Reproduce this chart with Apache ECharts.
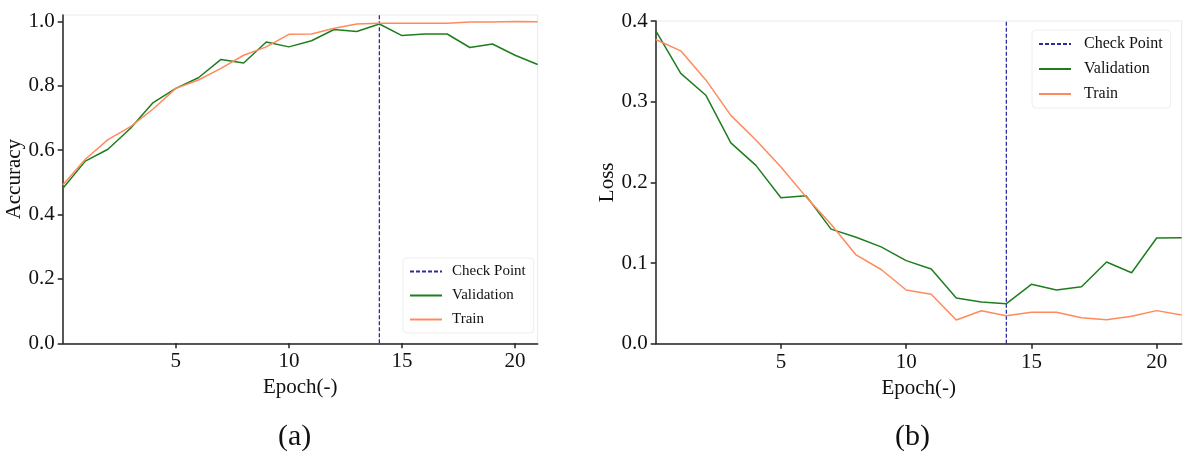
<!DOCTYPE html>
<html>
<head>
<meta charset="utf-8">
<script src="https://cdn.jsdelivr.net/npm/echarts@6/dist/echarts.min.js"></script>
<style>
	html, body { margin: 0; padding: 0; background: #fff; }
	#chart { width: 1192px; height: 452px; }
</style>
</head>
<body>
<div id="chart"></div>
<script>
// 数据
let epochs = [0, 1, 2, 3, 4, 5, 6, 7, 8, 9, 10, 11, 12, 13, 14, 15, 16, 17, 18, 19, 20, 21]
let accValidation = [0.481, 0.566, 0.603, 0.668, 0.748, 0.792, 0.825, 0.882, 0.871, 0.936, 0.921, 0.940, 0.975, 0.969, 0.992, 0.956, 0.961, 0.961, 0.919, 0.930, 0.895, 0.866]
let accTrain = [0.492, 0.572, 0.633, 0.673, 0.728, 0.792, 0.818, 0.854, 0.895, 0.921, 0.960, 0.961, 0.979, 0.992, 0.994, 0.994, 0.994, 0.994, 0.998, 0.998, 1.000, 0.999]
let lossValidation = [0.388, 0.335, 0.308, 0.249, 0.221, 0.181, 0.1835, 0.142, 0.132, 0.120, 0.103, 0.0926, 0.0567, 0.0517, 0.0496, 0.0736, 0.0666, 0.0707, 0.1013, 0.088, 0.131, 0.1314]
let lossTrain = [0.377, 0.363, 0.327, 0.283, 0.2525, 0.219, 0.182, 0.148, 0.110, 0.092, 0.0666, 0.0612, 0.0294, 0.0409, 0.0347, 0.0389, 0.0389, 0.0322, 0.0298, 0.034, 0.041, 0.0356]
let checkPointEpoch = 14
let xTicks = [5, 10, 15, 20]
let accTicks = [0, 0.2, 0.4, 0.6, 0.8, 1.0]
let lossTicks = [0, 0.1, 0.2, 0.3, 0.4]

let font = 'Liberation Serif, Times New Roman, serif'
let green = '#1f7d1f'
let orange = '#ff8a5c'
let navy = '#2b2b9e'

function pairs(ys) {
	let arr = []
	for (let i = 0, l = epochs.length; i < l; i++) {
		arr.push([epochs[i], ys[i]])
	}
	return arr
}

function xAxis(idx, name) {
	return {
		type: 'value',
		gridIndex: idx,
		min: 0,
		max: 21,
		name: name,
		nameLocation: 'middle',
		nameGap: 27,
		nameTextStyle: { fontFamily: font, fontSize: 21, color: '#111' },
		axisLine: { lineStyle: { color: '#222', width: 1.5 } },
		axisTick: { customValues: xTicks, length: 5, lineStyle: { color: '#222', width: 1.5 } },
		axisLabel: { customValues: xTicks, fontFamily: font, fontSize: 21, color: '#111', margin: 8 },
		splitLine: { show: false }
	}
}

function yAxis(idx, name, max, ticks, gap) {
	return {
		type: 'value',
		gridIndex: idx,
		min: 0,
		max: max,
		name: name,
		nameLocation: 'middle',
		nameGap: gap,
		nameTextStyle: { fontFamily: font, fontSize: 21, color: '#111' },
		axisLine: { show: true, lineStyle: { color: '#222', width: 1.5 } },
		axisTick: { show: true, customValues: ticks, length: 5, lineStyle: { color: '#222', width: 1.5 } },
		axisLabel: { customValues: ticks, fontFamily: font, fontSize: 21, color: '#111', margin: 8,
			formatter: v => v.toFixed(1) },
		splitLine: { show: false }
	}
}

function checkSeries(idx, top) {
	return {
		name: 'Check Point',
		type: 'line',
		xAxisIndex: idx,
		yAxisIndex: idx,
		symbol: 'none',
		color: navy,
		lineStyle: { color: navy, width: 1.3, type: [4, 2] },
		data: [[checkPointEpoch, 0], [checkPointEpoch, top]],
		z: 1
	}
}

function lineSeries(idx, name, color, ys) {
	return {
		name: name,
		type: 'line',
		xAxisIndex: idx,
		yAxisIndex: idx,
		symbol: 'none',
		color: color,
		lineStyle: { color: color, width: 1.5 },
		data: pairs(ys),
		z: 2
	}
}

function legend(left, top, size, textPad) {
	return {
		left: left,
		top: top,
		orient: 'vertical',
		itemWidth: 32,
		itemHeight: 12,
		itemGap: 9,
		padding: [6, 8, 6, 6],
		borderColor: '#eee',
		borderWidth: 1,
		borderRadius: 4,
		backgroundColor: 'rgba(255,255,255,0.8)',
		// 图例里只要线，不要圆点
		itemStyle: { opacity: 0 },
		textStyle: { fontFamily: font, fontSize: size, color: '#111', padding: [0, 0, 0, textPad] },
		data: ['Check Point', 'Validation', 'Train']
	}
}

let chart = echarts.init(document.getElementById('chart'))
let option = {
	animation: false,
	backgroundColor: '#fff',
	grid: [
		{ left: 62.7, top: 15, width: 475, height: 328.3, show: true, borderColor: '#ebebeb', borderWidth: 1 },
		{ left: 655.7, top: 21, width: 526, height: 322.7, show: true, borderColor: '#ebebeb', borderWidth: 1 }
	],
	legend: [legend(403, 258, 15, 5), legend(1032, 30, 16, 8)],
	xAxis: [xAxis(0, 'Epoch(-)'), xAxis(1, 'Epoch(-)')],
	yAxis: [yAxis(0, 'Accuracy', 1.02, accTicks, 32), yAxis(1, 'Loss', 0.4, lossTicks, 38)],
	graphic: [
		{ type: 'text', left: 278, top: 422, style: { text: '(a)', fontFamily: font, fontSize: 30, fill: '#111' } },
		{ type: 'text', left: 895, top: 422, style: { text: '(b)', fontFamily: font, fontSize: 30, fill: '#111' } }
	],
	series: [
		checkSeries(0, 1.02),
		lineSeries(0, 'Validation', green, accValidation),
		lineSeries(0, 'Train', orange, accTrain),
		checkSeries(1, 0.4),
		lineSeries(1, 'Validation', green, lossValidation),
		lineSeries(1, 'Train', orange, lossTrain)
	]
}
chart.setOption(option)
</script>
</body>
</html>
